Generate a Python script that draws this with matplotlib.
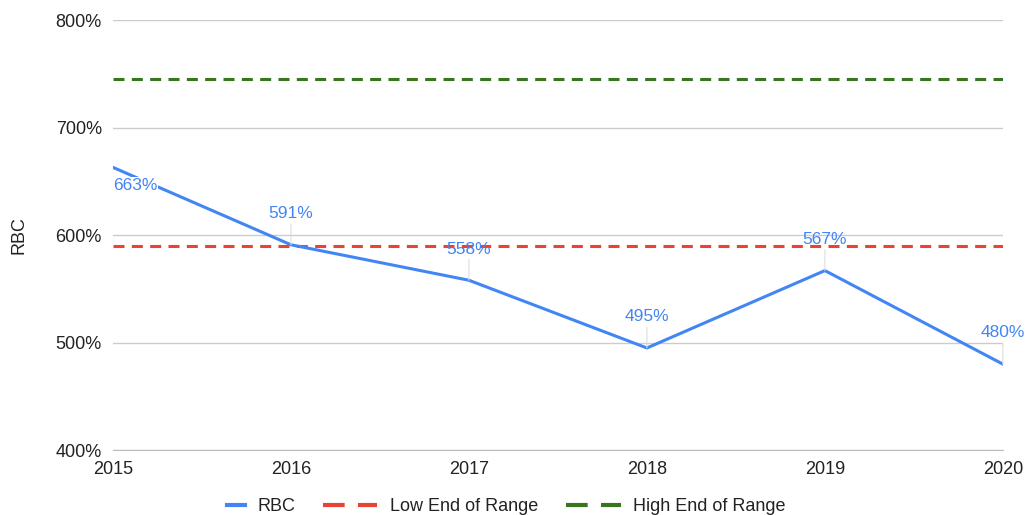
import matplotlib.pyplot as plt
from matplotlib.lines import Line2D
from matplotlib.legend_handler import HandlerLine2D
from matplotlib.ticker import FuncFormatter

plt.rcParams['font.family'] = ['Liberation Sans', 'DejaVu Sans']

years = [2015, 2016, 2017, 2018, 2019, 2020]
rbc = [663, 591, 558, 495, 567, 480]
low_end = [590, 590, 590, 590, 590, 590]
high_end = [745, 745, 745, 745, 745, 745]

blue = '#4285f4'
red = '#ea4335'
green = '#38761d'


class ShortHandler(HandlerLine2D):
    # legend entry with a shorter handle box (single dash like the original)
    def legend_artist(self, legend, orig_handle, fontsize, handlebox):
        handlebox.width = handlebox.width * 0.33
        return super().legend_artist(legend, orig_handle, fontsize, handlebox)


fig = plt.figure(figsize=(10.27, 5.15), dpi=100)
ax = fig.add_axes([0.110, 0.126, 0.8665, 0.835])

ax.plot(years, rbc, color=blue, lw=2.2, zorder=4)
ax.plot(years, low_end, color=red, lw=2.2, ls=(0, (3.6, 2.4)), zorder=3)
ax.plot(years, high_end, color=green, lw=2.2, ls=(0, (3.6, 2.4)), zorder=3)

# data labels with small leader lines
for i, (x, y) in enumerate(zip(years, rbc)):
    if i == 0:
        ax.annotate(f'{y}%', (x, y), xytext=(16, -13), textcoords='offset points',
                    ha='center', va='center', color=blue, fontsize=12.5,
                    bbox=dict(boxstyle='square,pad=0.05', fc='white', ec='none'), zorder=5)
    else:
        ax.annotate(f'{y}%', (x, y), xytext=(0, 17), textcoords='offset points',
                    ha='center', va='bottom', color=blue, fontsize=12.5,
                    arrowprops=dict(arrowstyle='-', color='#dddddd', lw=0.8,
                                    shrinkA=0, shrinkB=0), zorder=5)

ax.set_xlim(2015, 2020)
ax.set_ylim(400, 800)
ax.set_yticks([400, 500, 600, 700, 800])
ax.yaxis.set_major_formatter(FuncFormatter(lambda v, p: f'{v:.0f}%'))
ax.set_xticks(years)
ax.grid(axis='y', color='#cccccc', lw=1)
ax.set_axisbelow(True)
for s in ['top', 'right', 'left']:
    ax.spines[s].set_visible(False)
ax.spines['bottom'].set_color('#bbbbbb')
ax.tick_params(length=0, labelsize=13, colors='#222222', pad=8)
ax.tick_params(axis='x', pad=8)
ax.set_ylabel('RBC', fontsize=13, color='#222222', labelpad=20)

rbc_handle = Line2D([], [], color=blue, lw=3)
handles = [
    rbc_handle,
    Line2D([], [], color=red, lw=3, ls=(0, (5.2, 3.2))),
    Line2D([], [], color=green, lw=3, ls=(0, (5.2, 3.2))),
]
labels = ['RBC', 'Low End of Range', 'High End of Range']
fig.legend(handles, labels, loc='lower center', bbox_to_anchor=(0.493, -0.032), ncol=3,
           frameon=False, fontsize=13, handlelength=3.0, columnspacing=1.55,
           handletextpad=0.7, labelcolor='#222222',
           handler_map={rbc_handle: ShortHandler()})

fig.savefig('out.png', dpi=100)
